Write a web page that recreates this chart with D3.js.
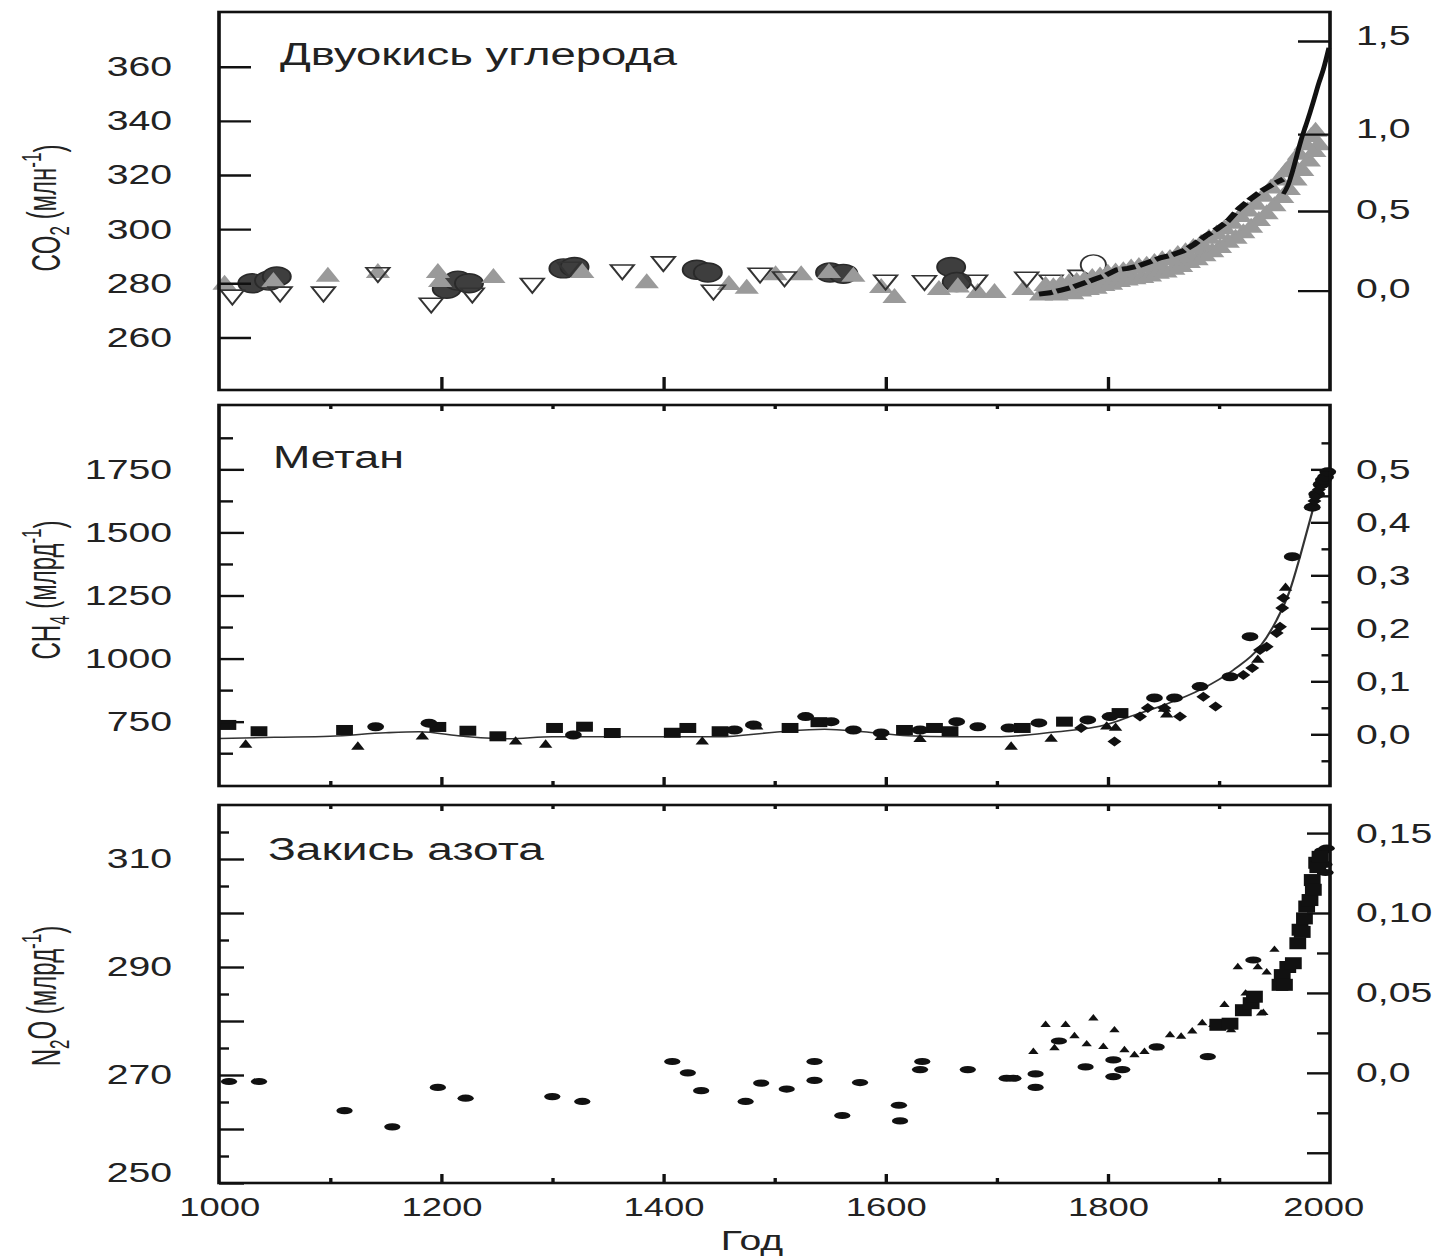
<!DOCTYPE html>
<html>
<head>
<meta charset="utf-8">
<script src="https://cdn.jsdelivr.net/npm/d3@7"></script>
<style>
  html, body { margin: 0; padding: 0; background: #fff; }
  svg { display: block; }
  text { fill: #222; }
</style>
</head>
<body>
<svg id="chart"></svg>
<script>
// ---- data (year, value) ----
var co2Circles = [[1030,280],[1045,281],[1052,282.5],[1205,278],[1215,281],[1225,280],[1310,285.5],[1320,286],
  [1430,285],[1440,284],[1550,284],[1562,283.5],[1659,286],[1664,280.5]];
var co2GrayTri = [[1005,279.5],[1049,280.5],[1098,282.4],[1143,283.8],[1197,283.8],[1199,280.5],[1247,282],
  [1327,283.8],[1385,280],[1459,279.4],[1475,278],[1501,283],[1524,283],[1549,283.8],[1571,282.4],[1596,278.3],
  [1608,274.6],[1648,277.5],[1665,278.5],[1683,276.4],[1698,276.4],[1724,277.5]];
var co2OpenTri = [[1012,275.7],[1055,276.8],[1094,276.8],[1143,284],[1191,272.7],[1228,276.4],[1282,280],
  [1315,286],[1363,285],[1400,288],[1445,277.5],[1487,283.8],[1509,282.4],[1600,281.2],[1635,281],[1681,281.2],
  [1727,282.3],[1749,281.2],[1775,283]];
var co2OpenCircle = [[1787,286.8]];
var co2GrayLow = [[1740,275.5],[1747,276],[1754,275.5],[1761,276.5],[1768,276],[1775,277],[1782,277.5],[1789,278],
  [1796,279],[1803,279.5],[1810,280.5],[1817,281],[1824,281.5],[1831,282],[1838,282.5],[1845,283.5],[1852,284],
  [1859,285],[1866,286],[1873,287.5],[1880,288.5],[1887,290],[1894,291.5],[1901,293],[1908,295],[1915,296.5],
  [1922,298.5],[1929,300.5],[1936,303],[1943,305.5],[1950,308.5],[1957,311.5],[1963,314.5],[1969,318],
  [1975,321.5],[1981,325],[1986,328.5],[1990,331]];
var co2GrayHigh = [[1744,279],[1751,278.5],[1758,279.5],[1765,280],[1772,280.5],[1779,281],[1786,282],[1793,282.5],
  [1800,283.5],[1807,284],[1814,284.5],[1821,285.5],[1828,286],[1835,286.5],[1842,287.5],[1849,288.5],[1856,289],
  [1863,290.5],[1870,291.5],[1877,293],[1884,294.5],[1891,296.5],[1898,298],[1905,300],[1912,302],[1919,304.5],
  [1926,306.5],[1933,309],[1940,312],[1947,315],[1954,318],[1960,321],[1966,324],[1972,327.5],[1978,331],
  [1983,334],[1987,336]];
var co2LawDome = [[1738,276],[1748,276.5],[1758,277.5],[1768,278.5],[1778,280],[1788,281.5],[1798,283],[1808,285],
  [1818,285.5],[1828,286.5],[1838,288],[1848,289.5],[1858,290.5],[1868,292],[1878,294.5],[1888,297.5],[1898,300],
  [1908,303],[1918,307.5],[1928,311],[1938,314],[1948,316.5],[1958,318.5]];
var co2MaunaLoa = [[1958,313],[1962,316],[1966,321],[1970,327],[1974,333],[1978,338],[1982,343],[1986,348.5],
  [1990,354],[1994,359],[1999,367]];

var ch4Curve = [[1000,683],[1050,688],[1100,692],[1150,706],[1180,710],[1220,692],[1260,682],[1300,690],[1350,690],
  [1400,690],[1450,690],[1500,708],[1545,720],[1580,710],[1620,694],[1660,690],[1700,690],[1750,708],[1800,740],
  [1823,775],[1853,820],[1883,876],[1913,955],[1937,1047],[1952,1153],[1964,1272],[1973,1404],[1982,1549],
  [1988,1641],[1994,1696],[2000,1735]];
var ch4Squares = [[1008,737],[1036,712],[1113,717],[1197,729],[1224,714],[1251,692],[1302,725],[1329,730],
  [1354,705],[1408,706],[1422,725],[1451,712],[1514,725],[1540,748],[1617,717],[1644,725],[1658,712],[1723,725],
  [1761,750],[1811,784]];
var ch4Circles = [[1141,730],[1189,744],[1319,697],[1464,717],[1481,737],[1528,770],[1551,750],[1571,717],
  [1596,705],[1631,717],[1664,750],[1683,730],[1711,725],[1738,745],[1782,757],[1802,770],[1842,844],[1860,844],
  [1883,889],[1910,928],[1928,1087],[1966,1404],[1984,1600],[1988,1652],[1992,1690],[1994,1708],[1996,1720],
  [1998,1740]];
var ch4Triangles = [[1024,658],[1125,650],[1183,690],[1267,670],[1294,658],[1435,670],[1484,730],[1596,688],
  [1631,680],[1713,650],[1749,681],[1799,730],[1807,725],[1853,777],[1851,800],[1935,994],[1960,1280]];
var ch4Diamonds = [[1776,725],[1806,671],[1829,770],[1836,804],[1851,804],[1865,770],[1886,849],[1897,810],
  [1922,935],[1930,963],[1937,1034],[1943,1047],[1952,1101],[1955,1126],[1957,1200],[1958,1240],[1986,1625],
  [1987,1640],[1990,1670]];

var n2oCircles = [[1009,268.8],[1036,268.8],[1113,263.4],[1156,260.4],[1197,267.7],[1222,265.7],[1300,266],
  [1327,265.1],[1408,272.5],[1422,270.4],[1434,267.1],[1474,265.1],[1488,268.5],[1511,267.4],[1536,272.5],
  [1536,269],[1561,262.5],[1577,268.6],[1612,264.4],[1613,261.5],[1633,272.5],[1631,271],[1674,271],[1709,269.4],
  [1715,269.4],[1735,270.2],[1735,267.7],[1756,276.3],[1780,271.5],[1805,272.8],[1805,269.7],[1813,271],
  [1844,275.2],[1890,273.4],[1931,291.3],[1990,310],[1993,311.5],[1995,309],[1997,312],[1996,307.5]];
var n2oTriangles = [[1733,274.3],[1744,279.3],[1752,275],[1762,279.3],[1770,277.2],[1781,275.7],[1787,280.5],
  [1796,275.2],[1806,278.3],[1815,274.6],[1824,273.7],[1833,274.3],[1845,275],[1856,277.4],[1866,277.1],
  [1876,278.1],[1885,279.6],[1895,279.3],[1905,283],[1911,278.3],[1917,290],[1924,285.1],[1935,290],[1938,281.4],
  [1943,289],[1950,293.2],[1940,281.5]];
var n2oSquares = [[1899,279.3],[1910,279.5],[1922,282],[1929,283.3],[1932,284.5],[1955,286.7],[1957,288.5],
  [1959,286.7],[1962,290],[1967,290.7],[1971,294.4],[1973,296.9],[1975,296.5],[1977,299],[1979,301.2],
  [1982,302.4],[1984,306.1],[1985,304.3],[1988,309.3],[1989,308.5],[1991,310.4]];

// ---- ticks and labels ----
var years = [1000, 1200, 1400, 1600, 1800, 2000];
var yearsMajor = [1200, 1400, 1600, 1800];
var yearsMinor = [1100, 1300, 1500, 1700, 1900];
var co2Ticks = [260, 280, 300, 320, 340, 360];
var co2ForcingPpm = [277.3, 306.7, 335.1, 369.5];     // where the forcing ticks sit on the ppm scale
var co2ForcingLabels = ["0,0", "0,5", "1,0", "1,5"];
var ch4Ticks = [750, 1000, 1250, 1500, 1750];
var ch4Minor = [625, 875, 1125, 1375, 1625, 1875];
var ch4Forcing = [0, 0.1, 0.2, 0.3, 0.4, 0.5];
var ch4ForcingLabels = ["0,0", "0,1", "0,2", "0,3", "0,4", "0,5"];
var ch4ForcingMinor = [-0.05, 0.05, 0.15, 0.25, 0.35, 0.45, 0.55];
var n2oTicks = [250, 270, 290, 310];
var n2oMid = [260, 280, 300];
var n2oMinor = [255, 265, 275, 285, 295, 305, 315];
var n2oForcing = [0, 0.05, 0.10, 0.15];
var n2oForcingLabels = ["0,0", "0,05", "0,10", "0,15"];
var n2oForcingMid = [-0.05];
var n2oForcingMinor = [-0.025, 0.025, 0.075, 0.125];

// the source image is stretched sideways, so draw in a narrower box and stretch it
var SX = 1.4;
var W = 1441, H = 1257;
function px(v) { return v / SX; }
var FONT = '"Liberation Sans", Arial, Helvetica, sans-serif';

var svg = d3.select("#chart")
    .attr("width", W)
    .attr("height", H)
    .attr("viewBox", "0 0 " + (W / SX) + " " + H)
    .attr("preserveAspectRatio", "none");

var L = px(219), R = px(1330);
var x = d3.scaleLinear().domain([1000, 2000]).range([L, R]);

var yCO2 = d3.scaleLinear().domain([240.6, 380.2]).range([390, 12]);
var yCH4 = d3.scaleLinear().domain([495, 2005]).range([786, 405]);
var yN2O = d3.scaleLinear().domain([250, 320]).range([1183, 805]);

// forcing (right) axes of CH4 and N2O are linear in concentration
var ch4At = function(f) { return 700 + f * 2100; };
var n2oAt = function(f) { return 270.4 + f * 296; };

function styleAxis(g, size) {
  g.select(".domain").remove();
  g.attr("font-family", FONT).attr("font-size", size).attr("color", "#111");
  g.selectAll("line").attr("stroke-width", 2.4);
}

function leftAxis(scale, values, len, labels) {
  var ax = d3.axisLeft(scale).tickValues(values).tickSize(-px(len)).tickPadding(px(47))
      .tickFormat(labels ? d3.format("d") : "");
  return svg.append("g").attr("transform", "translate(" + L + ",0)").call(ax).call(styleAxis, 28);
}

function rightAxis(values, len, labels) {
  var ax = d3.axisRight(d3.scaleIdentity()).tickValues(values).tickSize(-px(len)).tickPadding(px(26))
      .tickFormat(function(d, i) { return labels ? labels[i] : ""; });
  return svg.append("g").attr("transform", "translate(" + R + ",0)").call(ax).call(styleAxis, 28);
}

function xTicks(yPos, values, len, top) {
  var ax = (top ? d3.axisTop(x) : d3.axisBottom(x)).tickValues(values).tickSize(-len).tickFormat("");
  svg.append("g").attr("transform", "translate(0," + yPos + ")").call(ax).call(styleAxis, 26);
}

function frame(top, bottom) {
  svg.append("rect")
      .attr("x", L).attr("y", top)
      .attr("width", R - L).attr("height", bottom - top)
      .attr("fill", "none").attr("stroke", "#111").attr("stroke-width", 2.6);
}

function panelTitle(label, xPos, yPos, width) {
  svg.append("text")
      .attr("x", px(xPos)).attr("y", yPos)
      .attr("font-family", FONT).attr("font-size", 31)
      .attr("textLength", px(width)).attr("lengthAdjust", "spacingAndGlyphs")
      .text(label);
}

function yTitle(cy, main, sub, unit) {
  var t = svg.append("text")
      .attr("transform", "translate(" + px(60) + "," + cy + ") rotate(-90) scale(1,1.2)")
      .attr("text-anchor", "middle")
      .attr("font-family", FONT).attr("font-size", 24);
  t.append("tspan").text(main[0]);
  t.append("tspan").attr("font-size", 17).attr("dy", "0.3em").text(sub);
  t.append("tspan").attr("dy", "-0.3em").text((main[1] || "") + "  (" + unit);
  t.append("tspan").attr("font-size", 17).attr("dy", "-0.55em").text("-1");
  t.append("tspan").attr("dy", "0.55em").text(")");
}

// markers
function triangles(g, data, y, size, fill, stroke, down) {
  g.append("g").selectAll("path").data(data).join("path")
      .attr("d", d3.symbol().type(d3.symbolTriangle).size(size))
      .attr("transform", function(d) {
        return "translate(" + x(d[0]) + "," + y(d[1]) + ")" + (down ? " rotate(180)" : "");
      })
      .attr("fill", fill)
      .attr("stroke", stroke || "none")
      .attr("stroke-width", stroke ? 1.6 : 0);
}

function ellipses(g, data, y, rx, ry, fill, stroke) {
  g.append("g").selectAll("ellipse").data(data).join("ellipse")
      .attr("cx", function(d) { return x(d[0]); })
      .attr("cy", function(d) { return y(d[1]); })
      .attr("rx", rx).attr("ry", ry)
      .attr("fill", fill)
      .attr("stroke", stroke || "none")
      .attr("stroke-width", stroke ? 1.4 : 0);
}

function squares(g, data, y, w, h) {
  g.append("g").selectAll("rect").data(data).join("rect")
      .attr("x", function(d) { return x(d[0]) - w / 2; })
      .attr("y", function(d) { return y(d[1]) - h / 2; })
      .attr("width", w).attr("height", h)
      .attr("fill", "#111");
}

function diamonds(g, data, y, size) {
  g.append("g").selectAll("path").data(data).join("path")
      .attr("d", d3.symbol().type(d3.symbolSquare).size(size))
      .attr("transform", function(d) { return "translate(" + x(d[0]) + "," + y(d[1]) + ") rotate(45)"; })
      .attr("fill", "#111");
}

// ---------- CO2 panel ----------
var gCO2 = svg.append("g");
ellipses(gCO2, co2Circles, yCO2, 10, 9.5, "#3e3e3e", "#2a2a2a");
triangles(gCO2, co2GrayTri, yCO2, 130, "#9a9a9a");
triangles(gCO2, co2OpenTri, yCO2, 120, "none", "#333", true);
ellipses(gCO2, co2OpenCircle, yCO2, 9, 10, "#fff", "#333");
triangles(gCO2, co2GrayLow, yCO2, 130, "#9a9a9a");
triangles(gCO2, co2GrayHigh, yCO2, 130, "#9a9a9a");

var lineCO2 = d3.line().x(function(d) { return x(d[0]); }).y(function(d) { return yCO2(d[1]); });
gCO2.append("path").datum(co2LawDome).attr("d", lineCO2)
    .attr("fill", "none").attr("stroke", "#111").attr("stroke-width", 5).attr("stroke-dasharray", "10 3");
gCO2.append("path").datum(co2MaunaLoa).attr("d", lineCO2.curve(d3.curveMonotoneX))
    .attr("fill", "none").attr("stroke", "#111").attr("stroke-width", 3.5);

frame(12, 390);
leftAxis(yCO2, co2Ticks, 32, true);
var co2Right = rightAxis(co2ForcingPpm.map(function(c) { return yCO2(c); }), 32, co2ForcingLabels);
// labels of the upper two forcing ticks sit a little above their ticks
co2Right.selectAll(".tick text").attr("dy", function(d, i) { return i >= 2 ? "0.12em" : "0.25em"; });
xTicks(390, yearsMajor, 13, false);
panelTitle("Двуокись углерода", 280, 65, 397);
yTitle(208, ["CO"], "2", "млн");

// ---------- CH4 panel ----------
var gCH4 = svg.append("g");
gCH4.append("path").datum(ch4Curve)
    .attr("d", d3.line().curve(d3.curveMonotoneX)
      .x(function(d) { return x(d[0]); }).y(function(d) { return yCH4(d[1]); }))
    .attr("fill", "none").attr("stroke", "#333").attr("stroke-width", 1.6);
squares(gCH4, ch4Squares, yCH4, 12, 10);
ellipses(gCH4, ch4Circles, yCH4, 6, 4.5, "#111");
triangles(gCH4, ch4Triangles, yCH4, 40, "#111");
diamonds(gCH4, ch4Diamonds, yCH4, 50);

frame(405, 786);
leftAxis(yCH4, ch4Ticks, 25, true);
leftAxis(yCH4, ch4Minor, 14, false);
rightAxis(ch4Forcing.map(function(f) { return yCH4(ch4At(f)); }), 19, ch4ForcingLabels);
rightAxis(ch4ForcingMinor.map(function(f) { return yCH4(ch4At(f)); }), 8.5, null);
xTicks(786, yearsMajor, 9, false);
xTicks(786, yearsMinor, 5, false);
xTicks(405, yearsMajor, 6, true);
xTicks(405, yearsMinor, 4, true);
panelTitle("Метан", 273, 468, 131);
yTitle(590, ["CH"], "4", "млрд");

// ---------- N2O panel ----------
var gN2O = svg.append("g");
ellipses(gN2O, n2oCircles, yN2O, 5.8, 3.6, "#111");
triangles(gN2O, n2oTriangles, yN2O, 24, "#111");
squares(gN2O, n2oSquares, yN2O, 12, 12);

frame(805, 1183);
var n2oLeft = leftAxis(yN2O, n2oTicks, 25, true);
n2oLeft.selectAll(".tick text").filter(function(d) { return d === 250; }).attr("dy", "-0.05em");
leftAxis(yN2O, n2oMid, 25, false);
leftAxis(yN2O, n2oMinor, 10, false);
rightAxis(n2oForcing.map(function(f) { return yN2O(n2oAt(f)); }), 23, n2oForcingLabels);
rightAxis(n2oForcingMid.map(function(f) { return yN2O(n2oAt(f)); }), 23, null);
rightAxis(n2oForcingMinor.map(function(f) { return yN2O(n2oAt(f)); }), 13, null);
xTicks(1183, yearsMajor, 9, false);
xTicks(1183, yearsMinor, 5, false);
xTicks(805, yearsMajor, 6, true);
xTicks(805, yearsMinor, 4, true);
panelTitle("Закись азота", 268, 860, 276);
yTitle(996, ["N", "O"], "2", "млрд");

// year labels under the bottom panel
var yearAxis = svg.append("g").attr("transform", "translate(0,1183)")
    .call(d3.axisBottom(x).tickValues(years).tickSize(0).tickPadding(15).tickFormat(d3.format("d")))
    .call(styleAxis, 26);
yearAxis.selectAll(".tick text").filter(function(d) { return d === 2000; }).attr("dx", -px(7));

svg.append("text")
    .attr("x", px(752)).attr("y", 1250)
    .attr("text-anchor", "middle")
    .attr("font-family", FONT).attr("font-size", 28)
    .text("Год");
</script>
</body>
</html>
